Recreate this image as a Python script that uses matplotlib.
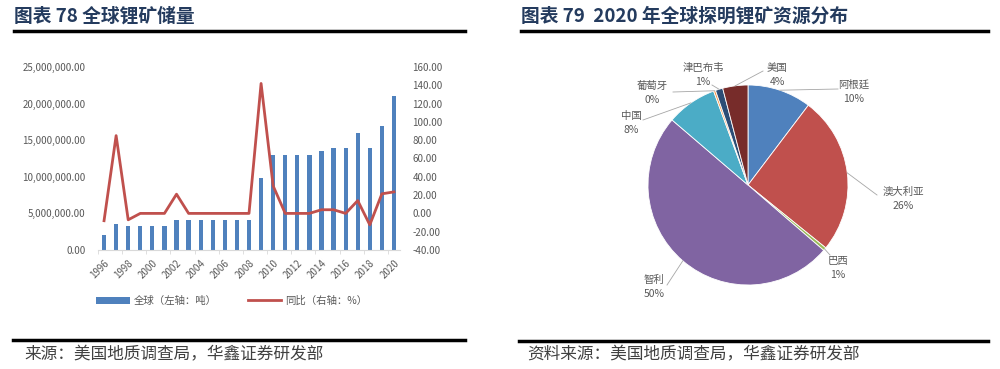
import numpy as np
import matplotlib
matplotlib.use("Agg")
import matplotlib.pyplot as plt
from matplotlib.lines import Line2D
from matplotlib.ticker import FuncFormatter, MultipleLocator

plt.rcParams["font.family"] = ["Noto Sans CJK SC", "DejaVu Sans"]

# ---- data: global lithium reserves (tonnes) and yoy change (%)
years = list(range(1996, 2021))
reserves = [2.0e6, 3.6e6, 3.3e6, 3.3e6, 3.3e6, 3.3e6, 4.1e6, 4.1e6, 4.1e6, 4.1e6,
            4.1e6, 4.1e6, 4.1e6, 9.9e6, 13.0e6, 13.0e6, 13.0e6, 13.0e6, 13.5e6, 14.0e6,
            14.0e6, 16.0e6, 14.0e6, 17.0e6, 21.0e6]
yoy = [-8, 85, -7, 0, 0, 0, 21, 0, 0, 0,
       0, 0, 0, 142, 30, 0, 0, 0, 4, 4,
       0, 14, -12.5, 21.4, 23.5]

# ---- data: 2020 lithium reserves by country (10k tonnes)
countries = ["阿根廷", "澳大利亚", "巴西", "智利", "中国", "葡萄牙", "津巴布韦", "美国"]
country_reserves = [190, 470, 9.5, 920, 150, 6, 22, 75]
pie_colors = ["#4F81BD", "#C0504D", "#9BBB59", "#8064A2", "#4BACC6", "#F79646", "#2C4D75", "#772C2A"]

GRAY = "#595959"
W, H = 1000, 369

fig = plt.figure(figsize=(10, 3.69), dpi=100)


def fx(px):
    return px / W


def fy(py):
    return 1 - py / H


# ---- headers / footers
fig.text(fx(14), fy(16), "图表 78 全球锂矿储量", fontsize=13.5, fontweight="bold",
         color="#243b5e", va="center")
fig.text(fx(521), fy(16), "图表 79  2020 年全球探明锂矿资源分布", fontsize=13.5, fontweight="bold",
         color="#243b5e", va="center")
for x0, x1, y in [(14, 465, 31), (521, 988, 31), (13, 465, 340), (519, 988, 341)]:
    fig.add_artist(Line2D([fx(x0), fx(x1)], [fy(y), fy(y)], lw=2.5, color="black",
                          transform=fig.transFigure))
fig.text(fx(24), fy(355), "来源：美国地质调查局，华鑫证券研发部", fontsize=12,
         color="#404040", va="center")
fig.text(fx(527), fy(355), "资料来源：美国地质调查局，华鑫证券研发部", fontsize=12,
         color="#404040", va="center")

# ---- left chart: bars + yoy line
ax = fig.add_axes([fx(98), fy(250), fx(400) - fx(98), fy(67) - fy(250)])
x = np.arange(len(years))
bars = ax.bar(x, reserves, width=0.35, color="#4F81BD", label="全球（左轴：吨）", zorder=2)
ax.set_ylim(0, 25e6)
ax.yaxis.set_major_locator(MultipleLocator(5e6))
ax.yaxis.set_major_formatter(FuncFormatter(lambda v, p: f"{v:,.2f}"))
ax.set_xlim(-0.5, len(years) - 0.5)
ax.set_xticks(x[::2])
ax.set_xticklabels([str(y) for y in years[::2]], rotation=45, ha="right", va="top",
                   rotation_mode="anchor")
ax.set_xticks(np.arange(-0.5, len(years), 2), minor=True)
ax.tick_params(axis="x", which="major", length=0, labelsize=7, labelcolor=GRAY, pad=6)
ax.tick_params(axis="x", which="minor", length=3, color="#d9d9d9")
ax.tick_params(axis="y", length=0, labelsize=7, labelcolor=GRAY, pad=9)
for s in ["top", "left", "right"]:
    ax.spines[s].set_visible(False)
ax.spines["bottom"].set_color("#d9d9d9")

ax2 = ax.twinx()
line, = ax2.plot(x, yoy, color="#C0504D", lw=2.0, label="同比（右轴：%）", zorder=3)
ax2.set_ylim(-40, 160)
ax2.yaxis.set_major_locator(MultipleLocator(20))
ax2.yaxis.set_major_formatter(FuncFormatter(lambda v, p: f"{v:.2f}"))
ax2.tick_params(axis="y", length=0, labelsize=7, labelcolor=GRAY, pad=9)
for s in ["top", "left", "right", "bottom"]:
    ax2.spines[s].set_visible(False)

fig.legend([bars, line], ["全球（左轴：吨）", "同比（右轴：%）"], loc="center",
           bbox_to_anchor=(fx(232), fy(301)), ncol=2, frameon=False, fontsize=7.5,
           labelcolor=GRAY, handlelength=3.2, columnspacing=3, handletextpad=0.4)

# ---- right chart: pie
pax = fig.add_axes([fx(588), fy(345), fx(908) - fx(588), fy(25) - fy(345)])
wedges, _ = pax.pie(country_reserves, colors=pie_colors, startangle=90, counterclock=False,
                    radius=1, wedgeprops=dict(edgecolor="white", linewidth=0.6))
pax.set_xlim(-1.6, 1.6)
pax.set_ylim(-1.6, 1.6)
pax.set_aspect("equal")
pax.axis("off")

total = sum(country_reserves)
# label block centre and leader end, in radius units around the pie centre
label_pos = {
    "阿根廷": ((1.06, 0.93), (0.90, 0.96)),
    "澳大利亚": ((1.55, -0.14), (1.29, -0.10)),
    "巴西": ((0.90, -0.83), (0.82, -0.70)),
    "智利": ((-0.94, -1.02), (-0.81, -1.00)),
    "中国": ((-1.17, 0.62), (-1.05, 0.65)),
    "葡萄牙": ((-0.96, 0.92), (-0.75, 0.93)),
    "津巴布韦": ((-0.45, 1.10), (-0.36, 1.00)),
    "美国": ((0.29, 1.10), (0.15, 1.14)),
}
for w, name, val in zip(wedges, countries, country_reserves):
    mid = np.deg2rad((w.theta1 + w.theta2) / 2)
    ex, ey = np.cos(mid), np.sin(mid)
    (tx, ty), (lx, ly) = label_pos[name]
    pax.plot([ex, lx], [ey, ly], color="#a6a6a6", lw=0.6, clip_on=False)
    pct = round(val / total * 100)
    pax.text(tx, ty, f"{name}\n{pct}%", ha="center", va="center", fontsize=7.5,
             color=GRAY, linespacing=1.5)

fig.savefig("out.png", dpi=100)
